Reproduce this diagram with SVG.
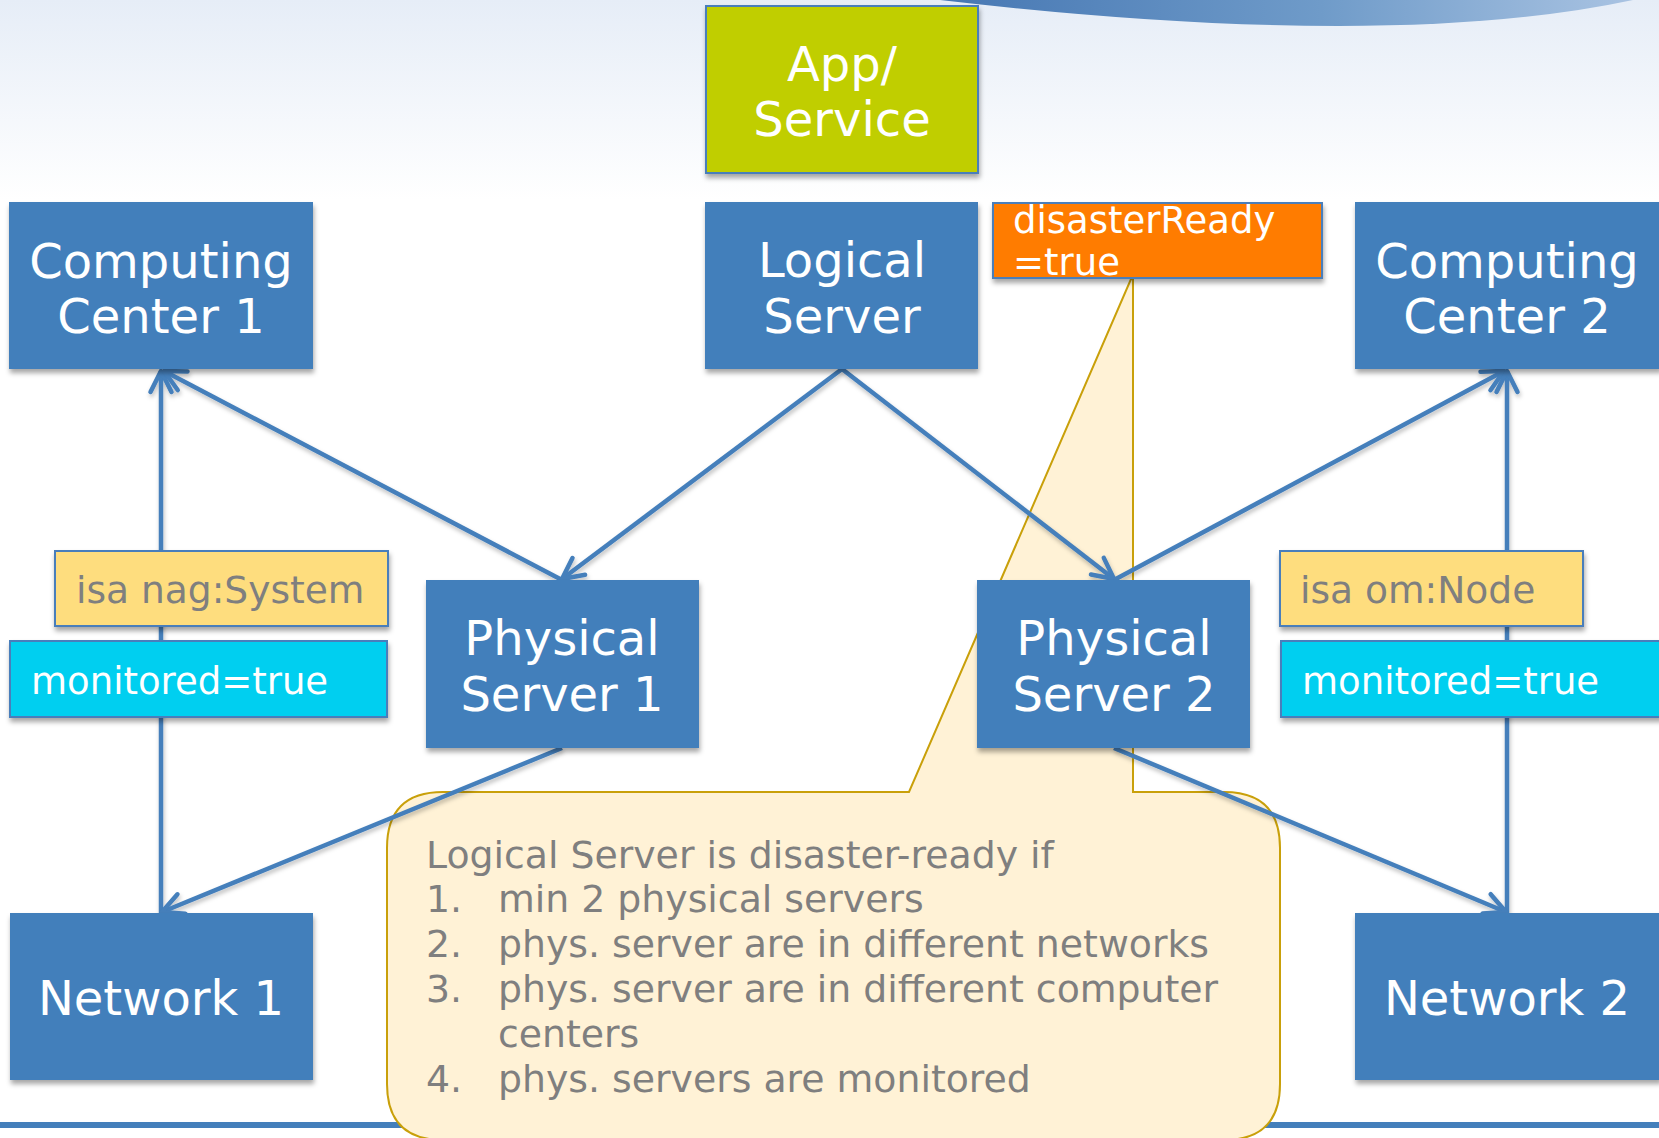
<svg xmlns="http://www.w3.org/2000/svg" width="1659" height="1138" viewBox="0 0 1659 1138">
<defs>
<linearGradient id="bg" x1="0" y1="0" x2="0" y2="1">
<stop offset="0" stop-color="#e6edf7"/>
<stop offset="1" stop-color="#ffffff"/>
</linearGradient>
<linearGradient id="sw" x1="0" y1="0" x2="1" y2="0">
<stop offset="0" stop-color="#4677b3"/>
<stop offset="0.55" stop-color="#6f9bc9"/>
<stop offset="1" stop-color="#a9c3e2"/>
</linearGradient>
<filter id="sh" x="-10%" y="-10%" width="120%" height="130%">
<feDropShadow dx="1" dy="4" stdDeviation="2.5" flood-color="#000" flood-opacity="0.35"/>
</filter>
<filter id="lsh" x="-10%" y="-10%" width="120%" height="120%">
<feDropShadow dx="1" dy="3" stdDeviation="2" flood-color="#000" flood-opacity="0.25"/>
</filter>
<marker id="arr" markerUnits="userSpaceOnUse" viewBox="-26 -16 30 32" markerWidth="30" markerHeight="32" refX="0" refY="0" orient="auto" overflow="visible">
<path d="M-21,-10.5 L0,0 L-21,10.5" fill="none" stroke="#447fbb" stroke-width="4.5" stroke-linecap="round" stroke-linejoin="round"/>
</marker>
</defs>
<style>
.box{fill:#437fbb;filter:url(#sh)}
.lbl{stroke:#4a7ebb;stroke-width:2;filter:url(#sh)}
.t{font-family:"DejaVu Sans",Verdana,sans-serif;fill:#ffffff}
.big{font-size:48px;text-anchor:middle}
.sm{font-size:37px}
.isa{font-size:37.6px}
.gray{fill:#7f7f7f}
.con{fill:none;stroke:#447fbb;stroke-width:4.5;marker-end:url(#arr)}
.ct{font-family:"DejaVu Sans",Verdana,sans-serif;font-size:37.8px;fill:#7f7f7f}
</style>
<rect x="0" y="0" width="1659" height="1138" fill="#ffffff"/>
<rect x="0" y="0" width="1659" height="200" fill="url(#bg)"/>
<path d="M940,0 Q1390,52 1633,0 Z" fill="url(#sw)"/>
<rect x="0" y="1122" width="1659" height="6" fill="#447fbb"/>

<g id="callout">
<path d="M443,792 L909,792 L1131,279 L1133,279 L1133,792 L1224,792 Q1280,792 1280,848 L1280,1084 Q1280,1140 1224,1140 L443,1140 Q387,1140 387,1084 L387,848 Q387,792 443,792 Z" fill="#fff2d6" stroke="#c9a00a" stroke-width="2" stroke-linejoin="miter"/>
<text class="ct" x="426" y="868">Logical Server is disaster-ready if</text>
<text class="ct" x="426" y="912">1.</text><text class="ct" x="498" y="912">min 2 physical servers</text>
<text class="ct" x="426" y="957">2.</text><text class="ct" x="498" y="957">phys. server are in different networks</text>
<text class="ct" x="426" y="1002">3.</text><text class="ct" x="498" y="1002">phys. server are in different computer</text>
<text class="ct" x="498" y="1047">centers</text>
<text class="ct" x="426" y="1092">4.</text><text class="ct" x="498" y="1092">phys. servers are monitored</text>
</g>

<g id="connectors" filter="url(#lsh)">
<line class="con" x1="161" y1="913" x2="161" y2="371"/>
<line class="con" x1="562" y1="580" x2="164" y2="371"/>
<line class="con" x1="842" y1="369" x2="562" y2="579"/>
<line class="con" x1="842" y1="369" x2="1114" y2="579"/>
<line class="con" x1="1114" y1="580" x2="1504" y2="371"/>
<line class="con" x1="1507" y1="913" x2="1507" y2="371"/>
<line class="con" x1="562" y1="748" x2="162" y2="912"/>
<line class="con" x1="1114" y1="748" x2="1506" y2="912"/>
</g>

<g id="app-service">
<rect class="lbl" x="706" y="6" width="272" height="167" fill="#c0ce05"/>
<text class="t big" x="842" y="81">App/</text>
<text class="t big" x="842" y="136">Service</text>
</g>
<g id="computing-center-1">
<rect class="box" x="9" y="202" width="304" height="167"/>
<text class="t big" x="161" y="278">Computing</text>
<text class="t big" x="161" y="333">Center 1</text>
</g>
<g id="logical-server">
<rect class="box" x="705" y="202" width="273" height="167"/>
<text class="t big" x="842" y="277">Logical</text>
<text class="t big" x="842" y="333">Server</text>
</g>
<g id="disaster-ready">
<rect class="lbl" x="993" y="203" width="329" height="75" fill="#ff7c00"/>
<text class="t sm" x="1013" y="233">disasterReady</text>
<text class="t sm" x="1013" y="275">=true</text>
</g>
<g id="computing-center-2">
<rect class="box" x="1355" y="202" width="306" height="167"/>
<text class="t big" x="1507" y="278">Computing</text>
<text class="t big" x="1507" y="333">Center 2</text>
</g>
<g id="isa-nag-system">
<rect class="lbl" x="55" y="551" width="333" height="75" fill="#fedd7e"/>
<text class="t isa gray" x="76" y="603">isa nag:System</text>
</g>
<g id="monitored-1">
<rect class="lbl" x="10" y="641" width="377" height="76" fill="#00cff0"/>
<text class="t sm" x="31" y="694">monitored=true</text>
</g>
<g id="physical-server-1">
<rect class="box" x="426" y="580" width="273" height="168"/>
<text class="t big" x="562" y="655">Physical</text>
<text class="t big" x="562" y="711">Server 1</text>
</g>
<g id="physical-server-2">
<rect class="box" x="977" y="580" width="273" height="168"/>
<text class="t big" x="1114" y="655">Physical</text>
<text class="t big" x="1114" y="711">Server 2</text>
</g>
<g id="isa-om-node">
<rect class="lbl" x="1280" y="551" width="303" height="75" fill="#fedd7e"/>
<text class="t isa gray" x="1300" y="603">isa om:Node</text>
</g>
<g id="monitored-2">
<rect class="lbl" x="1281" y="641" width="380" height="76" fill="#00cff0"/>
<text class="t sm" x="1302" y="694">monitored=true</text>
</g>
<g id="network-1">
<rect class="box" x="10" y="913" width="303" height="167"/>
<text class="t big" x="161" y="1015">Network 1</text>
</g>
<g id="network-2">
<rect class="box" x="1355" y="913" width="306" height="167"/>
<text class="t big" x="1507" y="1015">Network 2</text>
</g>
</svg>
